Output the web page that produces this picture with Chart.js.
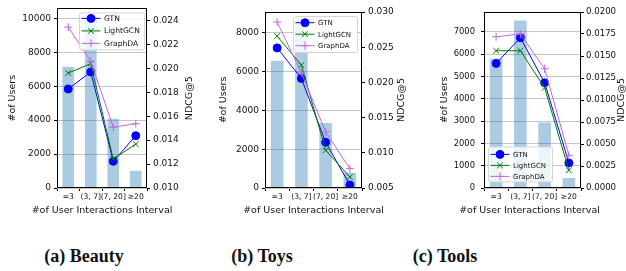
<!DOCTYPE html>
<html><head><meta charset="utf-8">
<script src="https://cdn.jsdelivr.net/npm/chart.js@4.4.0/dist/chart.umd.min.js"></script>
<style>
html,body{margin:0;padding:0;background:#fff;width:626px;height:271px;overflow:hidden;position:relative}
canvas{position:absolute;top:0}
.cap{position:absolute;font-family:'Liberation Serif','DejaVu Serif',serif;font-weight:bold;font-size:18px;white-space:nowrap;transform:translate(-50%,-50%);color:#111}
</style></head><body>
<canvas id="c1" width="210" height="225" style="left:0px"></canvas>
<canvas id="c2" width="205" height="225" style="left:210px"></canvas>
<canvas id="c3" width="211" height="225" style="left:415px"></canvas>
<div class="cap" style="left:84px;top:256px">(a) Beauty</div>
<div class="cap" style="left:262px;top:256px">(b) Toys</div>
<div class="cap" style="left:445px;top:256px">(c) Tools</div>
<script>
// ---- data ----
const categories = ['=3', '(3, 7]', '(7, 20]', '\u226520'];
const seriesNames = ['GTN', 'LightGCN', 'GraphDA'];

const beautyUsers    = [7150, 10080, 4080, 1020];
const beautyGTN      = [0.01827, 0.01969, 0.01223, 0.01437];
const beautyLightGCN = [0.01960, 0.02038, 0.01242, 0.01367];
const beautyGraphDA  = [0.02344, 0.02058, 0.01507, 0.01537];

const toysUsers    = [6570, 8650, 3360, 790];
const toysGTN      = [0.02490, 0.02056, 0.01150, 0.00543];
const toysLightGCN = [0.02658, 0.02246, 0.01036, 0.00657];
const toysGraphDA  = [0.02858, 0.02137, 0.01297, 0.00775];

const toolsUsers    = [5790, 7510, 2940, 450];
const toolsGTN      = [0.01416, 0.01708, 0.01195, 0.00285];
const toolsLightGCN = [0.01560, 0.01560, 0.01139, 0.00201];
const toolsGraphDA  = [0.01719, 0.01750, 0.01355, 0.00372];

// tick values
const beautyLeftTicks  = [0, 2000, 4000, 6000, 8000, 10000];
const beautyRightTicks = [0.010, 0.012, 0.014, 0.016, 0.018, 0.020, 0.022, 0.024];
const toysLeftTicks    = [0, 2000, 4000, 6000, 8000];
const toysRightTicks   = [0.005, 0.010, 0.015, 0.020, 0.025, 0.030];
const toolsLeftTicks   = [0, 1000, 2000, 3000, 4000, 5000, 6000, 7000];
const toolsRightTicks  = [0.0000, 0.0025, 0.0050, 0.0075, 0.0100, 0.0125, 0.0150, 0.0175, 0.0200];

const leftTitle = '#of Users';
const rightTitle = 'NDCG@5';
const xTitle = '#of User Interactions Interval';

// ---- styling ----
Chart.defaults.font.family = '"DejaVu Sans", sans-serif';
Chart.defaults.color = '#111';

const decorPlugin = {
  id: 'decor',
  afterDraw(chart, args, o) {
    const {ctx, chartArea: a} = chart;
    ctx.save();
    ctx.strokeStyle = '#000'; ctx.lineWidth = 1;
    ctx.strokeRect(Math.round(a.left) + 0.5, Math.round(a.top) + 0.5,
                   Math.round(a.right - a.left) - 1, Math.round(a.bottom - a.top) - 1);
    ctx.fillStyle = '#111';
    ctx.font = o.titleSize + 'px "DejaVu Sans"';
    ctx.textAlign = 'center'; ctx.textBaseline = 'middle';
    // x axis title
    ctx.fillText(xTitle, (a.left + a.right) / 2 + o.xTitleDx, o.xTitleY);
    // right axis title (reads bottom-to-top)
    ctx.translate(o.rightTitleX, (a.top + a.bottom) / 2);
    ctx.rotate(-Math.PI / 2);
    ctx.fillText(rightTitle, 0, 0);
    ctx.restore();

    // legend box
    const L = o.legend;
    const bx = L.anchor === 'tr' ? a.right - L.dx - L.w : a.left + L.dx;
    const by = L.anchor === 'tr' ? a.top + L.dy : a.bottom - L.dy - L.h;
    ctx.save();
    ctx.beginPath();
    ctx.roundRect(bx + 0.5, by + 0.5, L.w, L.h, 2);
    ctx.fillStyle = 'rgba(255,255,255,0.8)';
    ctx.fill();
    ctx.strokeStyle = '#d6d6d6'; ctx.lineWidth = 1;
    ctx.stroke();
    ctx.font = L.font + 'px "DejaVu Sans"';
    ctx.textAlign = 'left'; ctx.textBaseline = 'middle';
    chart.data.datasets.filter(d => d.type === 'line').forEach((d, i) => {
      const y = by + L.first + i * L.step;
      ctx.strokeStyle = d.borderColor; ctx.fillStyle = d.backgroundColor; ctx.lineWidth = 1;
      ctx.beginPath(); ctx.moveTo(bx + 2.5, y); ctx.lineTo(bx + 21.5, y); ctx.stroke();
      Chart.helpers.drawPoint(ctx, {pointStyle: d.pointStyle, radius: d.pointRadius, borderWidth: 1, rotation: 0}, bx + 12, y);
      ctx.fillStyle = '#111';
      ctx.fillText(d.label, bx + 25, y + 0.5);
    });
    ctx.restore();
  }
};

function makeChart(id, users, gtn, lgcn, gda, leftTicks, rightTicks, g) {
  const leftMax = Math.max(...users) * 1.05;
  const lineDs = (label, data, color, style, order) => ({
    type: 'line', label, data, yAxisID: 'yR', order,
    borderColor: color, backgroundColor: color, borderWidth: 1,
    pointStyle: style, pointRadius: 4, pointBorderWidth: 1, pointHoverRadius: 4,
    tension: 0, fill: false
  });
  return new Chart(document.getElementById(id), {
    type: 'bar',
    data: {
      labels: categories,
      datasets: [
        { type: 'bar', label: leftTitle, data: users, yAxisID: 'yL', order: 3,
          backgroundColor: 'rgba(31,119,180,0.38)', borderWidth: 0,
          barPercentage: 0.52, categoryPercentage: 1 },
        lineDs(seriesNames[0], gtn, '#0000ff', 'circle', 2),
        lineDs(seriesNames[1], lgcn, '#007a00', 'crossRot', 1),
        lineDs(seriesNames[2], gda, '#c466e6', 'cross', 0)
      ]
    },
    plugins: [decorPlugin],
    options: {
      responsive: false, animation: false, devicePixelRatio: 1,
      layout: { padding: { top: g.top, left: 0, right: 0, bottom: 0 } },
      plugins: { legend: { display: false }, tooltip: { enabled: false },
                 decor: { titleSize: 9.5, rightTitleX: g.rightTitleX, xTitleY: 210.7, xTitleDx: g.xTitleDx || 0, legend: g.legend } },
      scales: {
        x: {
          offset: true,
          afterFit: s => { s.height = g.xH; },
          grid: { display: true, drawOnChartArea: false, tickLength: 3, tickColor: '#000' },
          border: { display: false },
          ticks: { autoSkip: false, maxRotation: 0, padding: 1, font: { size: 7.6 } },
          title: { display: false }
        },
        yL: {
          position: 'left', min: 0, max: leftMax,
          afterFit: s => { s.width = g.leftW; },
          afterBuildTicks: s => { s.ticks = leftTicks.map(v => ({ value: v })); },
          grid: { color: '#c4c4c4', lineWidth: 1, tickLength: 3, tickColor: '#000' },
          border: { display: false },
          ticks: { padding: g.lPad, font: { size: g.leftFont }, callback: v => String(Math.round(v)) },
          title: { display: true, text: leftTitle, font: { size: 9.5 }, padding: { top: g.leftTitlePad, bottom: 0 } }
        },
        yR: {
          position: 'right', min: g.rMin, max: g.rMax,
          afterFit: s => { s.width = g.rightW; },
          afterBuildTicks: s => { s.ticks = rightTicks.map(v => ({ value: v })); },
          grid: { drawOnChartArea: false, tickLength: 3, tickColor: '#000' },
          border: { display: false },
          ticks: { padding: g.rPad, font: { size: g.rightFont }, callback: v => Number(v).toFixed(g.rDec) },
          title: { display: false }
        }
      }
    }
  });
}

makeChart('c1', beautyUsers, beautyGTN, beautyLightGCN, beautyGraphDA, beautyLeftTicks, beautyRightTicks, {
  top: 8, xH: 37, leftW: 57, rightW: 63, leftTitlePad: 6.6, leftFont: 9, rightFont: 9, lPad: 3, rPad: 3,
  rMin: 0.010, rMax: 0.025, rDec: 3, rightTitleX: 190,
  legend: { anchor: 'tr', dx: 3, dy: 4, w: 65, h: 37, first: 6, step: 12.5, font: 7.6 }
});
makeChart('c2', toysUsers, toysGTN, toysLightGCN, toysGraphDA, toysLeftTicks, toysRightTicks, {
  top: 12, xH: 37, leftW: 55, rightW: 53, leftTitlePad: 7.6, leftFont: 9, rightFont: 9, lPad: 3, rPad: 3,
  rMin: 0.005, rMax: 0.030, rDec: 3, rightTitleX: 191.7,
  legend: { anchor: 'tr', dx: 5, dy: 4, w: 64, h: 36, first: 6.7, step: 11.5, font: 7 }
});
makeChart('c3', toolsUsers, toolsGTN, toolsLightGCN, toolsGraphDA, toolsLeftTicks, toolsRightTicks, {
  top: 12, xH: 37, leftW: 69, rightW: 45, leftTitlePad: 24.3, leftFont: 8.4, rightFont: 8.6, lPad: 6, rPad: 2,
  rMin: 0, rMax: 0.020, rDec: 4, rightTitleX: 206.7, xTitleDx: -3,
  legend: { anchor: 'bl', dx: 4, dy: 6.6, w: 64, h: 35, first: 8, step: 11, font: 7 }
});
</script>
</body></html>
